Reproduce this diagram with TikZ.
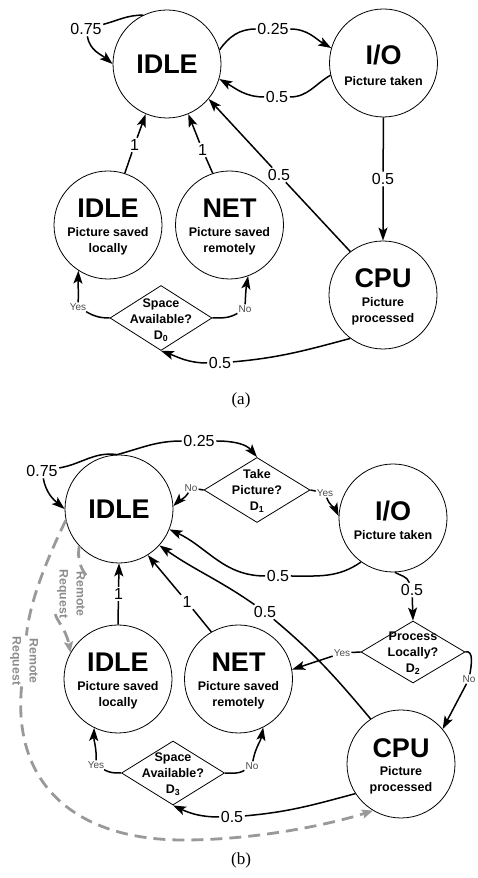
\documentclass[tikz,border=0pt]{standalone}
\usepackage{fontspec}
\setmainfont{Liberation Sans}
\newfontfamily\capfont{Liberation Serif}
\usetikzlibrary{arrows.meta,shapes.geometric,calc}
\begin{document}
\begin{tikzpicture}[x=1pt,y=1pt,
  st8/.style={circle,draw,line width=0.8pt,minimum size=108pt,inner sep=0pt},
  decn/.style={diamond,draw,line width=0.8pt,inner sep=0pt},
  ttl/.style={font=\fontsize{27}{30}\selectfont\bfseries,inner sep=0pt},
  subt/.style={font=\fontsize{12.5}{16}\selectfont\bfseries,align=center,inner sep=0pt},
  elab/.style={font=\fontsize{16}{18}\selectfont,inner sep=1.5pt},
  yn/.style={font=\fontsize{10}{12}\selectfont,text=black!70,inner sep=1pt},
  rr/.style={font=\fontsize{12.3}{17}\selectfont\bfseries,text=black!45,align=center,rotate=-90,inner sep=1pt},
  arr/.style={line width=1.5pt,-{Stealth[length=13pt,width=9pt,inset=3pt]}},
  remote/.style={draw=black!40,line width=2.8pt,dash pattern=on 12pt off 7pt,-{Stealth[length=11pt,width=9pt,inset=2pt]}},
  captxt/.style={font=\capfont\fontsize{17}{20}\selectfont}
]
\useasboundingbox (0,0) rectangle (477,878);

% ---------------- (a) ----------------
\node[st8] (idleA) at (167,814) {};
\node[ttl] (idleAt) at (idleA) {IDLE};
\node[st8] (ioA) at (383.5,815) {};
\node[ttl] (ioAt) at ($(ioA)+(0,8)$) {I/O};
\node[subt] (ioAs) at ($(ioA)+(0,-18)$) {Picture taken};
\node[st8] (idle2A) at (108,653) {};
\node[ttl] (idle2At) at ($(idle2A)+(0,17)$) {IDLE};
\node[subt] (idle2As) at ($(idle2A)+(0,-16)$) {Picture saved\\locally};
\node[st8] (netA) at (229.5,653) {};
\node[ttl] (netAt) at ($(netA)+(0,17)$) {NET};
\node[subt] (netAs) at ($(netA)+(0,-16)$) {Picture saved\\remotely};
\node[st8] (cpuA) at (383,583) {};
\node[ttl] (cpuAt) at ($(cpuA)+(0,17)$) {CPU};
\node[subt] (cpuAs) at ($(cpuA)+(0,-16)$) {Picture\\processed};
\node[decn,minimum width=102pt,minimum height=65pt] (dA) at (161,560) {};
\node[subt] (dAt) at ($(dA)+(0,-2)$) {Space\\Available?\\D\textsubscript{0}};

\node[elab] (l075a) at (86,849) {0.75};
\node[elab] (l025a) at (273,849) {0.25};
\node[elab] (l05a1) at (277,781) {0.5};
\node[elab] (l1a1) at (134.5,733) {1};
\node[elab] (l1a2) at (202.5,728) {1};
\node[elab] (l05a2) at (279,703) {0.5};
\node[elab] (l05a3) at (383,699) {0.5};
\node[elab] (l05a4) at (220,515) {0.5};
\node[yn] (yesA) at (78,571) {Yes};
\node[yn] (noA) at (245,569) {No};

\draw[arr] (idleA.116) to[out=180,in=15] (l075a) to[out=-80,in=140] (idleA.180);
\draw[arr] (idleA.15) to[out=55,in=180] (l025a) to[out=0,in=150] (ioA.164);
\draw[arr] (ioA.193) to[out=210,in=0] (l05a1) to[out=180,in=-30] (idleA.-16);
\draw[arr] (idle2A.72) -- (l1a1) -- (idleA.247);
\draw[arr] (netA.108.6) -- (l1a2) -- (idleA.293);
\draw[arr] (cpuA.127.5) -- (l05a2) -- (idleA.320);
\draw[arr] (ioA.south) -- (l05a3) -- (cpuA.north);
\draw[arr] (cpuA.233) to[out=195,in=5] (l05a4) to[out=180,in=-20] (dA.south);
\draw[arr] (dA.west) to[out=180,in=-30] (yesA) to[out=88,in=-92] (idle2A.237.5);
\draw[arr] (dA.east) to[out=0,in=-150] (noA) to[out=88,in=-100] (netA.290.5);

\node[captxt] (capA) at (241,478) {(a)};

% ---------------- (b) ----------------
\node[st8] (idleB) at (119,369) {};
\node[ttl] (idleBt) at (idleB) {IDLE};
\node[decn,minimum width=106pt,minimum height=65pt] (d1B) at (257,388) {};
\node[subt] (d1Bt) at ($(d1B)+(0,-1)$) {Take\\Picture?\\D\textsubscript{1}};
\node[st8] (ioB) at (393,360) {};
\node[ttl] (ioBt) at ($(ioB)+(0,7)$) {I/O};
\node[subt] (ioBs) at ($(ioB)+(0,-17)$) {Picture taken};
\node[decn,minimum width=104pt,minimum height=62pt] (d2B) at (413,226) {};
\node[subt] (d2Bt) at ($(d2B)+(0,-1)$) {Process\\Locally?\\D\textsubscript{2}};
\node[st8] (idle2B) at (118,199) {};
\node[ttl] (idle2Bt) at ($(idle2B)+(0,17)$) {IDLE};
\node[subt] (idle2Bs) at ($(idle2B)+(0,-16)$) {Picture saved\\locally};
\node[st8] (netB) at (238.5,199) {};
\node[ttl] (netBt) at ($(netB)+(0,17)$) {NET};
\node[subt] (netBs) at ($(netB)+(0,-16)$) {Picture saved\\remotely};
\node[st8] (cpuB) at (401,114) {};
\node[ttl] (cpuBt) at ($(cpuB)+(0,16)$) {CPU};
\node[subt] (cpuBs) at ($(cpuB)+(0,-16)$) {Picture\\processed};
\node[decn,minimum width=103pt,minimum height=64pt] (d3B) at (173,105) {};
\node[subt] (d3Bt) at ($(d3B)+(0,-1)$) {Space\\Available?\\D\textsubscript{3}};

\node[elab] (l075b) at (42,407) {0.75};
\node[elab] (l025b) at (199,437) {0.25};
\node[yn] (noB1) at (191,390) {No};
\node[yn] (yesB1) at (325,385) {Yes};
\node[elab] (l05b1) at (278,302) {0.5};
\node[elab] (l05b2) at (412,288) {0.5};
\node[elab] (l1b1) at (118.5,284) {1};
\node[elab] (l1b2) at (187,276) {1};
\node[elab] (l05b3) at (265,266) {0.5};
\node[yn] (yesB2) at (342,225) {Yes};
\node[yn] (noB2) at (469,199) {No};
\node[yn] (yesB3) at (96,113) {Yes};
\node[yn] (noB3) at (252,112) {No};
\node[elab] (l05b4) at (232,61) {0.5};
\node[rr] (rr1) at (71,284) {Remote\\Request};
\node[rr] (rr2) at (24,217) {Remote\\Request};

\draw[arr] (idleB.92) to[out=172,in=10] (l075b) to[out=-80,in=140] (idleB.180);
\draw[arr] (idleB.92) to[out=15,in=180] (l025b) to[out=0,in=130] (d1B.north);
\draw[arr] (d1B.west) -- (noB1) to[out=-120,in=45] (idleB.3);
\draw[arr] (d1B.east) -- (yesB1) to[out=-70,in=115] (ioB.178);
\draw[arr] (ioB.234) to[out=215,in=0] (l05b1) to[out=180,in=-25] (idleB.-22);
\draw[arr] (ioB.-88) to[out=-30,in=110] (l05b2) -- (d2B.north);
\draw[arr] (idle2B.north) -- (l1b1) -- (idleB.south);
\draw[arr] (netB.120.5) -- (l1b2) -- (idleB.302);
\draw[arr] (cpuB.124.6) to[out=130,in=-40] (l05b3) to[out=145,in=-35] (idleB.318.5);
\draw[arr] (d2B.west) -- (yesB2) -- (netB.10);
\draw[arr] (d2B.east) to[out=15,in=80] (noB2) -- (cpuB.40);
\draw[arr] (d3B.west) to[out=180,in=-30] (yesB3) to[out=88,in=-92] (idle2B.244);
\draw[arr] (d3B.east) to[out=0,in=-150] (noB3) to[out=80,in=-100] (netB.297);
\draw[arr] (cpuB.213) to[out=195,in=5] (l05b4) to[out=180,in=-25] (d3B.south);
\draw[remote] (idleB.223) to[out=-100,in=90] (rr1) to[out=-95,in=100] (idle2B.151);
\draw[remote] (idleB.192) .. controls (50,325) and (30,280) .. (rr2)
   .. controls (12,90) and (80,38) .. (183,38)
   .. controls (260,38) and (335,55) .. (cpuB.239);

\node[captxt] (capB) at (241,18) {(b)};
\end{tikzpicture}
\end{document}
